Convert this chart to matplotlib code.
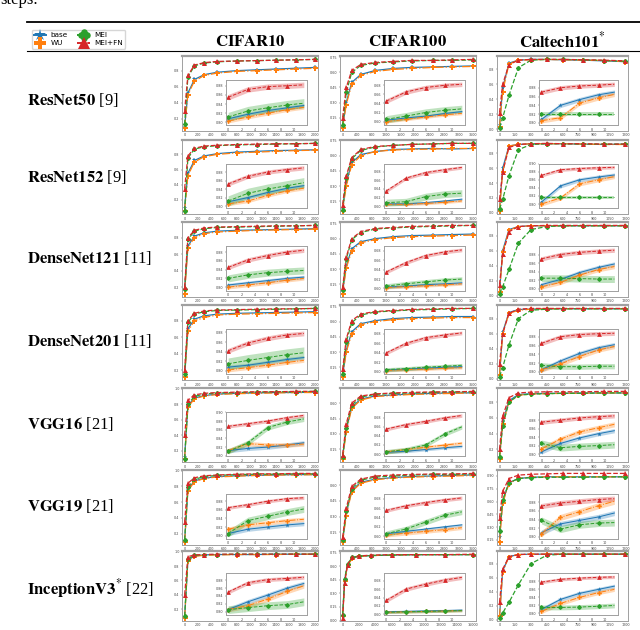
import matplotlib.pyplot as plt
from matplotlib.lines import Line2D
from matplotlib.path import Path

plt.rcParams['mathtext.fontset'] = 'stix'

methods = ["base", "WU", "MEI", "MEI+FN"]
colors = ["#1f77b4", "#ff7f0e", "#2ca02c", "#d62728"]
linestyles = ["-", "-.", "--", "--"]
models = ["ResNet50", "ResNet152", "DenseNet121", "DenseNet201", "VGG16", "VGG19", "InceptionV3"]
model_refs = ["[9]", "[9]", "[11]", "[11]", "[21]", "[21]", "[22]"]
model_star = [False, False, False, False, False, False, True]
datasets = ["CIFAR10", "CIFAR100", "Caltech101"]
dataset_star = [False, False, True]

# training steps where the main curves are sampled
cifar10_steps = [0, 50, 150, 300, 500, 800, 1100, 1400, 1700, 2000]
cifar100_steps = [0, 100, 250, 500, 900, 1400, 1900, 2500, 3000, 3600]
cifar100_steps_long = [0, 250, 600, 1200, 2000, 3500, 6000, 9000, 12500, 16000]
caltech_steps = [0, 30, 90, 180, 300, 450, 600, 800, 1000, 1200]
inset_steps = [0, 3, 6, 9, 11.5]

# main curves: base, WU, MEI, MEI+FN
cifar10_main = {
    "ResNet50": [[0.10, 0.52, 0.69, 0.75, 0.78, 0.80, 0.81, 0.82, 0.83, 0.84],
                 [0.09, 0.50, 0.67, 0.74, 0.77, 0.79, 0.80, 0.81, 0.82, 0.83],
                 [0.13, 0.72, 0.86, 0.895, 0.91, 0.92, 0.925, 0.93, 0.935, 0.94],
                 [0.30, 0.74, 0.87, 0.90, 0.915, 0.92, 0.925, 0.93, 0.935, 0.94]],
    "ResNet152": [[0.10, 0.55, 0.72, 0.78, 0.81, 0.83, 0.84, 0.85, 0.855, 0.86],
                  [0.06, 0.52, 0.70, 0.77, 0.80, 0.82, 0.83, 0.84, 0.85, 0.855],
                  [0.06, 0.75, 0.87, 0.90, 0.915, 0.925, 0.93, 0.935, 0.94, 0.945],
                  [0.35, 0.78, 0.88, 0.91, 0.92, 0.93, 0.935, 0.94, 0.94, 0.945]],
    "DenseNet121": [[0.15, 0.70, 0.82, 0.86, 0.88, 0.89, 0.895, 0.90, 0.905, 0.91],
                    [0.12, 0.68, 0.80, 0.85, 0.87, 0.88, 0.89, 0.895, 0.90, 0.905],
                    [0.18, 0.78, 0.88, 0.91, 0.925, 0.93, 0.935, 0.94, 0.945, 0.95],
                    [0.20, 0.80, 0.89, 0.92, 0.93, 0.935, 0.94, 0.945, 0.945, 0.95]],
    "DenseNet201": [[0.12, 0.70, 0.82, 0.86, 0.88, 0.89, 0.895, 0.90, 0.905, 0.91],
                    [0.12, 0.67, 0.80, 0.84, 0.87, 0.88, 0.885, 0.89, 0.895, 0.90],
                    [0.15, 0.78, 0.88, 0.91, 0.925, 0.93, 0.935, 0.94, 0.945, 0.95],
                    [0.20, 0.80, 0.89, 0.92, 0.93, 0.935, 0.94, 0.945, 0.945, 0.95]],
    "VGG16": [[0.12, 0.78, 0.88, 0.91, 0.93, 0.94, 0.945, 0.95, 0.95, 0.955],
              [0.10, 0.76, 0.87, 0.905, 0.925, 0.935, 0.94, 0.945, 0.95, 0.95],
              [0.10, 0.80, 0.90, 0.93, 0.945, 0.95, 0.955, 0.96, 0.96, 0.965],
              [0.40, 0.85, 0.92, 0.94, 0.95, 0.955, 0.96, 0.96, 0.965, 0.965]],
    "VGG19": [[0.10, 0.76, 0.87, 0.905, 0.925, 0.935, 0.94, 0.945, 0.95, 0.95],
              [0.10, 0.74, 0.86, 0.90, 0.92, 0.93, 0.94, 0.945, 0.945, 0.95],
              [0.12, 0.79, 0.89, 0.925, 0.94, 0.95, 0.955, 0.955, 0.96, 0.96],
              [0.35, 0.84, 0.91, 0.935, 0.945, 0.955, 0.96, 0.96, 0.965, 0.965]],
    "InceptionV3": [[0.08, 0.88, 0.94, 0.955, 0.96, 0.96, 0.96, 0.965, 0.965, 0.965],
                    [0.08, 0.87, 0.935, 0.95, 0.955, 0.96, 0.96, 0.96, 0.965, 0.965],
                    [0.10, 0.90, 0.95, 0.96, 0.96, 0.965, 0.965, 0.965, 0.965, 0.965],
                    [0.40, 0.93, 0.955, 0.96, 0.965, 0.965, 0.965, 0.965, 0.965, 0.965]],
}
cifar100_main = {
    "ResNet50": [[0.06, 0.30, 0.50, 0.58, 0.62, 0.64, 0.65, 0.655, 0.66, 0.665],
                 [0.05, 0.28, 0.48, 0.57, 0.61, 0.63, 0.64, 0.65, 0.655, 0.66],
                 [0.08, 0.40, 0.60, 0.67, 0.695, 0.705, 0.715, 0.72, 0.72, 0.725],
                 [0.15, 0.45, 0.62, 0.68, 0.70, 0.71, 0.72, 0.72, 0.725, 0.73]],
    "ResNet152": [[0.08, 0.33, 0.53, 0.61, 0.64, 0.66, 0.665, 0.67, 0.665, 0.67],
                  [0.06, 0.30, 0.51, 0.60, 0.64, 0.655, 0.66, 0.665, 0.67, 0.67],
                  [0.07, 0.38, 0.57, 0.65, 0.685, 0.70, 0.71, 0.715, 0.72, 0.72],
                  [0.12, 0.40, 0.58, 0.66, 0.69, 0.70, 0.71, 0.715, 0.72, 0.72]],
    "DenseNet121": [[0.08, 0.33, 0.50, 0.57, 0.60, 0.62, 0.63, 0.635, 0.64, 0.645],
                    [0.06, 0.31, 0.48, 0.56, 0.59, 0.61, 0.62, 0.625, 0.63, 0.635],
                    [0.10, 0.40, 0.59, 0.66, 0.695, 0.705, 0.715, 0.72, 0.725, 0.73],
                    [0.12, 0.42, 0.60, 0.67, 0.70, 0.71, 0.72, 0.725, 0.73, 0.73]],
    "DenseNet201": [[0.07, 0.32, 0.50, 0.58, 0.61, 0.63, 0.64, 0.645, 0.65, 0.65],
                    [0.06, 0.30, 0.48, 0.57, 0.60, 0.62, 0.63, 0.635, 0.64, 0.64],
                    [0.09, 0.40, 0.59, 0.665, 0.695, 0.705, 0.715, 0.72, 0.725, 0.73],
                    [0.13, 0.43, 0.61, 0.675, 0.70, 0.71, 0.72, 0.725, 0.73, 0.73]],
    "VGG16": [[0.08, 0.34, 0.56, 0.64, 0.67, 0.68, 0.69, 0.695, 0.70, 0.70],
              [0.06, 0.32, 0.55, 0.63, 0.665, 0.675, 0.685, 0.69, 0.695, 0.70],
              [0.08, 0.36, 0.58, 0.66, 0.685, 0.695, 0.70, 0.705, 0.71, 0.71],
              [0.10, 0.40, 0.60, 0.67, 0.69, 0.70, 0.705, 0.71, 0.71, 0.715]],
    "VGG19": [[0.07, 0.33, 0.55, 0.63, 0.66, 0.675, 0.685, 0.69, 0.695, 0.70],
              [0.06, 0.31, 0.54, 0.62, 0.655, 0.67, 0.68, 0.685, 0.69, 0.695],
              [0.08, 0.35, 0.57, 0.65, 0.68, 0.69, 0.70, 0.705, 0.705, 0.71],
              [0.10, 0.38, 0.59, 0.66, 0.69, 0.70, 0.705, 0.71, 0.71, 0.715]],
    "InceptionV3": [[0.05, 0.45, 0.62, 0.69, 0.71, 0.72, 0.725, 0.73, 0.73, 0.73],
                    [0.05, 0.44, 0.61, 0.69, 0.71, 0.72, 0.725, 0.73, 0.73, 0.73],
                    [0.06, 0.46, 0.63, 0.70, 0.715, 0.72, 0.725, 0.73, 0.73, 0.73],
                    [0.03, 0.42, 0.62, 0.70, 0.715, 0.725, 0.73, 0.73, 0.73, 0.735]],
}
caltech_main = {
    "ResNet50": [[0.05, 0.55, 0.88, 0.92, 0.93, 0.93, 0.925, 0.92, 0.91, 0.90],
                 [0.03, 0.50, 0.87, 0.92, 0.925, 0.93, 0.925, 0.92, 0.915, 0.90],
                 [0.02, 0.15, 0.45, 0.82, 0.92, 0.93, 0.93, 0.925, 0.915, 0.905],
                 [0.22, 0.60, 0.86, 0.92, 0.93, 0.93, 0.93, 0.925, 0.92, 0.91]],
    "ResNet152": [[0.05, 0.60, 0.90, 0.92, 0.93, 0.93, 0.93, 0.925, 0.92, 0.925],
                  [0.03, 0.55, 0.90, 0.92, 0.93, 0.93, 0.93, 0.925, 0.92, 0.92],
                  [0.05, 0.18, 0.50, 0.85, 0.92, 0.93, 0.93, 0.925, 0.925, 0.925],
                  [0.18, 0.55, 0.88, 0.92, 0.93, 0.935, 0.93, 0.93, 0.925, 0.925]],
    "DenseNet121": [[0.05, 0.60, 0.88, 0.92, 0.93, 0.93, 0.93, 0.93, 0.93, 0.93],
                    [0.05, 0.58, 0.87, 0.92, 0.93, 0.93, 0.93, 0.93, 0.93, 0.93],
                    [0.03, 0.12, 0.35, 0.70, 0.88, 0.92, 0.93, 0.93, 0.93, 0.93],
                    [0.15, 0.55, 0.85, 0.92, 0.93, 0.935, 0.935, 0.935, 0.935, 0.935]],
    "DenseNet201": [[0.05, 0.62, 0.88, 0.92, 0.925, 0.93, 0.93, 0.93, 0.93, 0.93],
                    [0.05, 0.60, 0.87, 0.91, 0.925, 0.93, 0.93, 0.93, 0.93, 0.93],
                    [0.03, 0.15, 0.45, 0.80, 0.91, 0.925, 0.93, 0.93, 0.93, 0.93],
                    [0.20, 0.60, 0.87, 0.925, 0.935, 0.935, 0.935, 0.935, 0.935, 0.935]],
    "VGG16": [[0.10, 0.55, 0.82, 0.90, 0.91, 0.915, 0.915, 0.92, 0.92, 0.92],
              [0.08, 0.52, 0.80, 0.89, 0.905, 0.91, 0.915, 0.915, 0.92, 0.92],
              [0.10, 0.50, 0.80, 0.89, 0.905, 0.91, 0.915, 0.915, 0.92, 0.92],
              [0.20, 0.62, 0.86, 0.92, 0.93, 0.935, 0.935, 0.935, 0.94, 0.94]],
    "VGG19": [[0.18, 0.60, 0.82, 0.87, 0.885, 0.89, 0.89, 0.89, 0.89, 0.89],
              [0.13, 0.58, 0.81, 0.87, 0.885, 0.89, 0.89, 0.89, 0.89, 0.89],
              [0.26, 0.62, 0.82, 0.87, 0.88, 0.885, 0.885, 0.885, 0.89, 0.89],
              [0.41, 0.72, 0.87, 0.91, 0.92, 0.925, 0.93, 0.93, 0.93, 0.93]],
    "InceptionV3": [[0.05, 0.70, 0.90, 0.93, 0.935, 0.935, 0.935, 0.935, 0.935, 0.935],
                    [0.05, 0.68, 0.90, 0.93, 0.935, 0.935, 0.935, 0.935, 0.935, 0.935],
                    [0.03, 0.10, 0.25, 0.50, 0.80, 0.92, 0.935, 0.935, 0.935, 0.935],
                    [0.25, 0.72, 0.90, 0.93, 0.935, 0.935, 0.935, 0.935, 0.935, 0.935]],
}

# zoomed-in early part (inset): base, WU, MEI, MEI+FN
cifar10_inset = {
    "ResNet50": [[0.808, 0.818, 0.826, 0.832, 0.837], [0.803, 0.812, 0.820, 0.828, 0.833],
                 [0.812, 0.825, 0.832, 0.838, 0.842], [0.855, 0.872, 0.878, 0.880, 0.882]],
    "ResNet152": [[0.810, 0.820, 0.832, 0.842, 0.848], [0.805, 0.812, 0.825, 0.836, 0.842],
                  [0.812, 0.830, 0.840, 0.848, 0.855], [0.852, 0.870, 0.880, 0.886, 0.890]],
    "DenseNet121": [[0.805, 0.810, 0.815, 0.820, 0.823], [0.800, 0.805, 0.810, 0.816, 0.820],
                    [0.820, 0.828, 0.833, 0.836, 0.838], [0.845, 0.862, 0.872, 0.880, 0.884]],
    "DenseNet201": [[0.808, 0.812, 0.818, 0.824, 0.828], [0.802, 0.807, 0.812, 0.818, 0.822],
                    [0.815, 0.822, 0.828, 0.834, 0.838], [0.842, 0.858, 0.868, 0.875, 0.878]],
    "VGG16": [[0.812, 0.817, 0.820, 0.825, 0.830], [0.812, 0.828, 0.825, 0.825, 0.827],
              [0.810, 0.830, 0.865, 0.878, 0.885], [0.868, 0.874, 0.880, 0.888, 0.893]],
    "VGG19": [[0.805, 0.815, 0.820, 0.825, 0.828], [0.815, 0.825, 0.830, 0.835, 0.838],
              [0.805, 0.835, 0.845, 0.855, 0.862], [0.865, 0.872, 0.880, 0.886, 0.888]],
    "InceptionV3": [[0.805, 0.825, 0.842, 0.860, 0.872], [0.805, 0.815, 0.832, 0.852, 0.866],
                    [0.805, 0.810, 0.815, 0.818, 0.825], [0.850, 0.874, 0.882, 0.885, 0.888]],
}
cifar100_inset = {
    "ResNet50": [[0.603, 0.608, 0.612, 0.618, 0.622], [0.600, 0.605, 0.610, 0.615, 0.618],
                 [0.605, 0.612, 0.620, 0.625, 0.628], [0.645, 0.665, 0.675, 0.680, 0.682]],
    "ResNet152": [[0.605, 0.605, 0.608, 0.612, 0.616], [0.604, 0.604, 0.606, 0.609, 0.612],
                  [0.608, 0.610, 0.622, 0.628, 0.630], [0.635, 0.665, 0.678, 0.685, 0.690]],
    "DenseNet121": [[0.603, 0.605, 0.608, 0.610, 0.612], [0.602, 0.604, 0.606, 0.608, 0.610],
                    [0.605, 0.610, 0.614, 0.618, 0.620], [0.635, 0.655, 0.670, 0.678, 0.682]],
    "DenseNet201": [[0.604, 0.606, 0.608, 0.610, 0.611], [0.603, 0.605, 0.606, 0.608, 0.609],
                    [0.605, 0.607, 0.610, 0.612, 0.614], [0.640, 0.660, 0.672, 0.678, 0.682]],
    "VGG16": [[0.604, 0.606, 0.610, 0.614, 0.617], [0.605, 0.610, 0.615, 0.620, 0.624],
              [0.605, 0.610, 0.620, 0.645, 0.660], [0.655, 0.665, 0.672, 0.680, 0.685]],
    "VGG19": [[0.605, 0.610, 0.615, 0.620, 0.624], [0.602, 0.606, 0.610, 0.614, 0.618],
              [0.605, 0.615, 0.630, 0.645, 0.652], [0.655, 0.665, 0.672, 0.678, 0.682]],
    "InceptionV3": [[0.606, 0.607, 0.608, 0.609, 0.610], [0.605, 0.606, 0.607, 0.608, 0.609],
                    [0.605, 0.606, 0.607, 0.608, 0.609], [0.633, 0.660, 0.672, 0.682, 0.688]],
}
caltech_inset = {
    "ResNet50": [[0.808, 0.840, 0.853, 0.864, 0.870], [0.805, 0.812, 0.845, 0.857, 0.865],
                 [0.820, 0.820, 0.820, 0.820, 0.820], [0.870, 0.880, 0.884, 0.886, 0.888]],
    "ResNet152": [[0.805, 0.845, 0.860, 0.867, 0.872], [0.800, 0.815, 0.850, 0.860, 0.868],
                  [0.817, 0.817, 0.817, 0.817, 0.817], [0.871, 0.885, 0.888, 0.890, 0.891]],
    "DenseNet121": [[0.810, 0.822, 0.838, 0.850, 0.858], [0.805, 0.815, 0.832, 0.845, 0.852],
                    [0.825, 0.825, 0.824, 0.823, 0.823], [0.870, 0.880, 0.885, 0.888, 0.890]],
    "DenseNet201": [[0.805, 0.825, 0.842, 0.855, 0.862], [0.805, 0.818, 0.835, 0.850, 0.858],
                    [0.815, 0.812, 0.812, 0.813, 0.813], [0.865, 0.880, 0.885, 0.887, 0.888]],
    "VGG16": [[0.805, 0.825, 0.838, 0.848, 0.855], [0.812, 0.835, 0.852, 0.862, 0.870],
              [0.825, 0.815, 0.818, 0.820, 0.822], [0.875, 0.880, 0.885, 0.888, 0.890]],
    "VGG19": [[0.810, 0.830, 0.838, 0.846, 0.855], [0.807, 0.845, 0.858, 0.872, 0.882],
              [0.838, 0.818, 0.828, 0.832, 0.833], [0.871, 0.878, 0.882, 0.886, 0.888]],
    "InceptionV3": [[0.810, 0.835, 0.850, 0.860, 0.868], [0.805, 0.825, 0.840, 0.852, 0.860],
                    [0.815, 0.815, 0.816, 0.818, 0.820], [0.878, 0.885, 0.888, 0.890, 0.891]],
}

# half-width of the shaded band in the insets: base, WU, MEI, MEI+FN
cifar10_band = {
    "ResNet50": [0.004, 0.004, 0.010, 0.006], "ResNet152": [0.004, 0.004, 0.012, 0.005],
    "DenseNet121": [0.004, 0.004, 0.008, 0.005], "DenseNet201": [0.004, 0.004, 0.012, 0.005],
    "VGG16": [0.005, 0.005, 0.006, 0.004], "VGG19": [0.005, 0.005, 0.008, 0.004],
    "InceptionV3": [0.006, 0.006, 0.010, 0.005],
}
cifar100_band = {
    "ResNet50": [0.003, 0.003, 0.008, 0.005], "ResNet152": [0.003, 0.003, 0.008, 0.004],
    "DenseNet121": [0.003, 0.003, 0.005, 0.004], "DenseNet201": [0.003, 0.003, 0.004, 0.004],
    "VGG16": [0.003, 0.004, 0.005, 0.004], "VGG19": [0.003, 0.004, 0.006, 0.004],
    "InceptionV3": [0.003, 0.003, 0.003, 0.005],
}
caltech_band = {
    "ResNet50": [0.005, 0.005, 0.005, 0.005], "ResNet152": [0.005, 0.005, 0.004, 0.004],
    "DenseNet121": [0.005, 0.005, 0.008, 0.005], "DenseNet201": [0.005, 0.005, 0.006, 0.005],
    "VGG16": [0.005, 0.006, 0.008, 0.005], "VGG19": [0.006, 0.007, 0.008, 0.006],
    "InceptionV3": [0.005, 0.005, 0.006, 0.004],
}

main_data = [cifar10_main, cifar100_main, caltech_main]
inset_data = [cifar10_inset, cifar100_inset, caltech_inset]
band_data = [cifar10_band, cifar100_band, caltech_band]

W, H = 640, 630
col_x = [(182, 318), (340, 476), (497, 628)]
row_y = [(56, 131), (140, 214), (222, 297), (305, 380), (388, 462), (470, 545), (551, 621)]
label_y = [100, 177, 258, 341, 424, 506, 589]

# MEI marker: four-leaf clover
clover = Path.make_compound_path(*[Path.circle(c, 0.5) for c in [(0.45, 0), (-0.45, 0), (0, 0.45), (0, -0.45)]])
markers = ["*", "P", clover, "^"]

SPINE = "#a0a0a0"
TICKFS = 2.4


def style_axes(ax, top_lw):
    for name, sp in ax.spines.items():
        sp.set_color(SPINE)
        sp.set_linewidth(0.7)
    ax.spines["top"].set_linewidth(top_lw)
    ax.tick_params(labelsize=TICKFS, length=1, width=0.3, pad=0.8, colors="#444444")


def steps_for(col, row):
    if col == 0:
        return cifar10_steps, 200
    if col == 1:
        if models[row] == "InceptionV3":
            return cifar100_steps_long, 2000
        return cifar100_steps, 400
    return caltech_steps, 150


fig = plt.figure(figsize=(W / 100, H / 100), dpi=100)

for col in range(3):
    for row, model in enumerate(models):
        x0, x1 = col_x[col]
        y0, y1 = row_y[row]
        ax = fig.add_axes([x0 / W, 1 - y1 / H, (x1 - x0) / W, (y1 - y0) / H])
        steps, tick_step = steps_for(col, row)
        for k in range(4):
            ax.plot(steps, main_data[col][model][k], color=colors[k], ls=linestyles[k],
                    lw=0.9, marker=markers[k], ms=3.6, mew=0, zorder=2 + (k >= 2))
        ax.set_xlim(-steps[-1] * 0.02, steps[-1] * 1.02)
        ax.set_xticks(list(range(0, steps[-1] + 1, tick_step)))
        ax.yaxis.set_major_locator(plt.MaxNLocator(6))
        style_axes(ax, 1.6)

        ins = ax.inset_axes([0.32, 0.08, 0.6, 0.6])
        for k in range(4):
            vals = inset_data[col][model][k]
            hw = band_data[col][model][k]
            ins.fill_between(inset_steps, [v - hw for v in vals], [v + hw for v in vals],
                             color=colors[k], alpha=0.3, lw=0)
            ins.plot(inset_steps, vals, color=colors[k], ls=linestyles[k], lw=0.7,
                     marker=markers[k], ms=3.4, mew=0, markevery=[0, 1, 2, 3])
        ins.set_xlim(-0.4, 12)
        ins.set_xticks([0, 2, 4, 6, 8, 10])
        ins.yaxis.set_major_locator(plt.MaxNLocator(6))
        style_axes(ins, 0.7)

# column headers
for col, name in enumerate(datasets):
    x0, x1 = col_x[col]
    label = r"$\mathbf{%s}^{*}$" % name if dataset_star[col] else r"$\mathbf{%s}$" % name
    fig.text((x0 + x1) / 2 / W, 1 - 41 / H, label, ha="center", va="center", fontsize=12)

# row labels
for row, model in enumerate(models):
    name = r"$\mathbf{%s}^{*}$" % model if model_star[row] else r"$\mathbf{%s}$" % model
    fig.text(27 / W, 1 - label_y[row] / H, name + " " + model_refs[row], ha="left", va="center",
             fontsize=12, family="Liberation Serif")

fig.text(0.0, 1.0, "steps.", ha="left", va="center", fontsize=12, family="Liberation Serif")

# table rules
fig.add_artist(Line2D([27 / W, 1.0], [1 - 22 / H] * 2, color="k", lw=1.3))
fig.add_artist(Line2D([27 / W, 1.0], [1 - 51 / H] * 2, color="k", lw=0.8))

handles = [Line2D([], [], color=colors[k], ls=linestyles[k], lw=1.4, marker=markers[k], ms=9, mew=0)
           for k in range(4)]
fig.legend(handles, methods, loc="upper left", bbox_to_anchor=(28 / W, 1 - 26 / H), ncol=2,
           prop={"family": "DejaVu Sans", "size": 5.2}, frameon=True, fancybox=True,
           edgecolor="#cccccc", handlelength=1.7, columnspacing=1.3, borderpad=0.35,
           labelspacing=0.25, handletextpad=0.6)

fig.savefig("out.png", dpi=100)
